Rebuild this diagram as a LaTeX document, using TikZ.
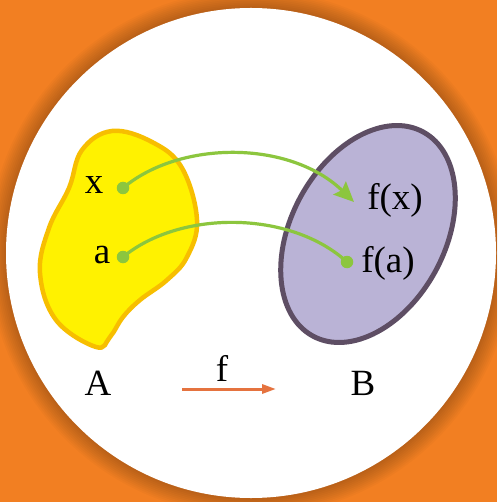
\documentclass[tikz,border=0pt]{standalone}
\usepackage{fontspec}
\setmainfont{Liberation Serif}
\usetikzlibrary{arrows.meta}
\definecolor{bgorange}{HTML}{F27F22}
\definecolor{blobyellow}{HTML}{FFF200}
\definecolor{blobstroke}{HTML}{F7BE00}
\definecolor{ellfill}{HTML}{BAB3D6}
\definecolor{ellstroke}{HTML}{5E4E64}
\definecolor{dotgreen}{HTML}{8CC63E}
\definecolor{arrorange}{HTML}{E5733F}
\begin{document}
\begin{tikzpicture}[x=1pt,y=-1pt,
  lbl/.style={font=\fontsize{37}{42}\selectfont, inner sep=0pt},
  dotn/.style={circle, fill=dotgreen, inner sep=0pt, minimum size=12.5pt},
  garrow/.style={draw=dotgreen, line width=3.2pt},
  oarrow/.style={draw=arrorange, line width=3pt}]
\useasboundingbox (0,0) rectangle (497,502);
\clip (0,0) rectangle (497,502);
\fill[bgorange] (0,0) rectangle (497,502);
\foreach \i in {1,...,10} \fill[black, opacity=0.022] (251,253) circle (245+\i*1.8);
\fill[white] (251,253) circle (245);
% set A
\draw[blobstroke, line width=4.5pt, fill=blobyellow] plot[smooth cycle, tension=0.65] coordinates {(112,131) (152,142) (182,168) (197,220) (187,257) (167,280) (140,300) (123,317) (110,337) (96,347) (56,320) (40,273) (49,228) (69,188) (82,150)};
% set B
\draw[ellstroke, line width=5pt, fill=ellfill, rotate around={61.7:(368,234)}] (368,234) ellipse (116 and 77);
% points
\node[dotn] (x) at (123,188) {};
\node[dotn] (a) at (123,257) {};
\node[dotn] (fa) at (347,262) {};
\coordinate (fx) at (354,202);
\node[lbl] (lx) at (94,185) {x};
\node[lbl] (la) at (102,255) {a};
\node[lbl] (lfx) at (395,200) {f(x)};
\node[lbl] (lfa) at (388,263) {f(a)};
\node[lbl] (lA) at (98,383) {A};
\node[lbl] (lB) at (363,383) {B};
\node[lbl] (lf) at (222,368) {f};
% arrows
\draw[garrow, -{Stealth[length=20pt,width=18pt,inset=3pt]}] (x.center) .. controls (180,140) and (290,140) .. (fx);
\draw[garrow] (a.center) .. controls (180,210) and (290,210) .. (fa.center);
\coordinate (fs) at (182,389);
\coordinate (fe) at (276,389);
\draw[oarrow, -{Triangle[length=14pt,width=9pt]}] (fs) -- (fe);
\end{tikzpicture}
\end{document}
